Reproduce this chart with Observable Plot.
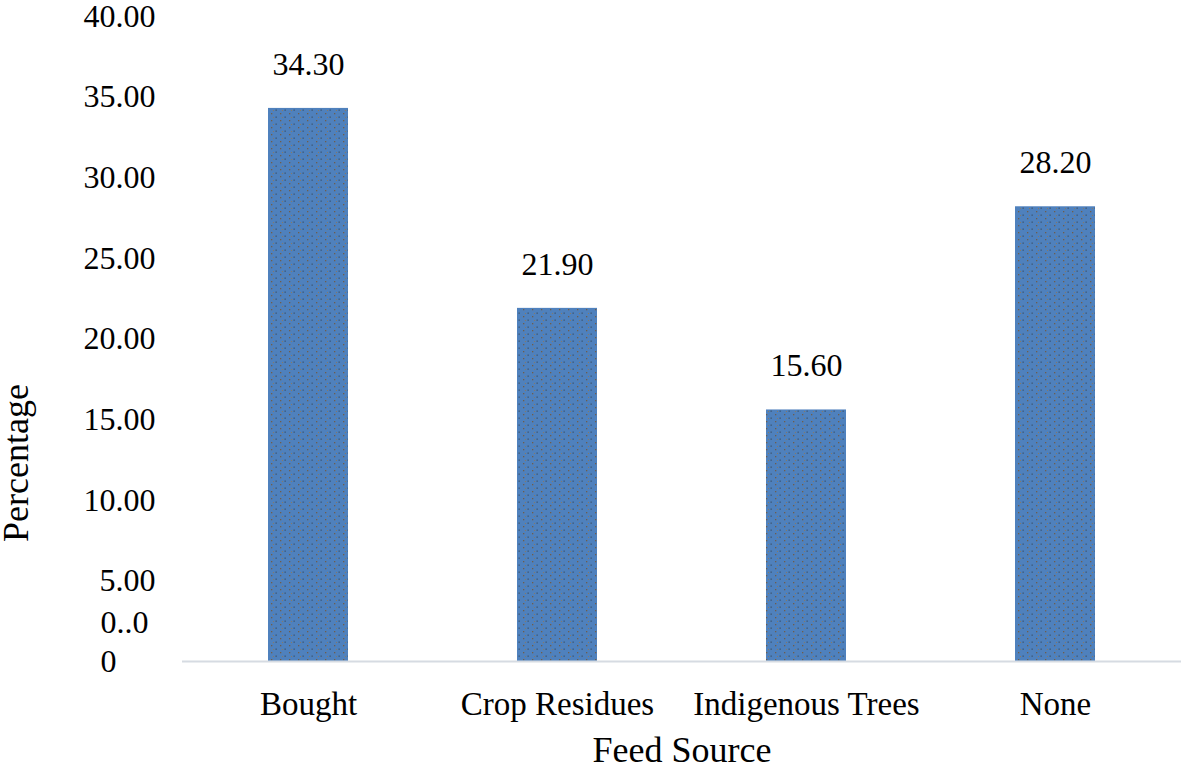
<!DOCTYPE html>
<html>
<head>
<meta charset="utf-8">
<script src="https://cdn.jsdelivr.net/npm/d3@7"></script>
<script src="https://cdn.jsdelivr.net/npm/@observablehq/plot@0.6"></script>
<style>
  html, body { margin: 0; padding: 0; background: #fff; }
</style>
</head>
<body>
<div id="chart"></div>
<script>
const categories = ["Bought", "Crop Residues", "Indigenous Trees", "None"];
const values = [34.30, 21.90, 15.60, 28.20];
const yTicks = [5, 10, 15, 20, 25, 30, 35, 40];
const zeroLabel = "0..0\n0";
const xTitle = "Feed Source";
const yTitle = "Percentage";

const data = categories.map((c, i) => ({source: c, value: values[i]}));
const font = "'Liberation Serif', 'Times New Roman', serif";

const svg = Plot.plot({
  width: 1181,
  height: 766,
  marginLeft: 182,
  marginRight: 0,
  marginTop: 16,
  marginBottom: 105,
  style: {fontFamily: font, fontSize: "32px", background: "white", color: "black"},
  x: {domain: categories, paddingInner: 0.68, paddingOuter: 0.34, label: null},
  y: {domain: [0, 40], label: null},
  marks: [
    Plot.barY(data, {x: "source", y: "value", fill: "url(#dots)"}),
    Plot.ruleY([0], {stroke: "#d6dbe2", strokeWidth: 2}),
    Plot.text(data, {x: "source", y: "value", text: d => d.value.toFixed(2), dy: -44, fill: "black", fontSize: 32}),
    Plot.axisY(yTicks, {tickSize: 0, tickPadding: 27, tickFormat: d => d.toFixed(2), label: null, fontSize: 32}),
    Plot.axisY([0], {tickSize: 0, tickPadding: 27, tickFormat: () => zeroLabel, textAnchor: "start", lineAnchor: "bottom", lineHeight: 1.2, dx: -55, dy: 10, label: null, fontSize: 32}),
    Plot.axisX({tickSize: 0, tickPadding: 30, label: null, fontSize: 33}),
    Plot.text([xTitle], {frameAnchor: "bottom", dy: 89, fontSize: 36, lineAnchor: "middle", fill: "black"}),
    Plot.text([yTitle], {frameAnchor: "left", textAnchor: "middle", rotate: -90, dx: -166, dy: 124, fontSize: 36, fill: "black"})
  ]
});

d3.select(svg).insert("defs", ":first-child").html(`
  <pattern id="dots" width="9" height="7" patternUnits="userSpaceOnUse">
    <rect width="9" height="7" fill="#4f81bd"></rect>
    <rect x="1" y="1" width="1.3" height="1.3" fill="#6e5e4c"></rect>
    <rect x="5.5" y="4.5" width="1.3" height="1.3" fill="#3b5470"></rect>
    <rect x="3" y="5" width="1" height="1" fill="#8a7a62"></rect>
  </pattern>
`);

document.getElementById("chart").appendChild(svg);
</script>
</body>
</html>
